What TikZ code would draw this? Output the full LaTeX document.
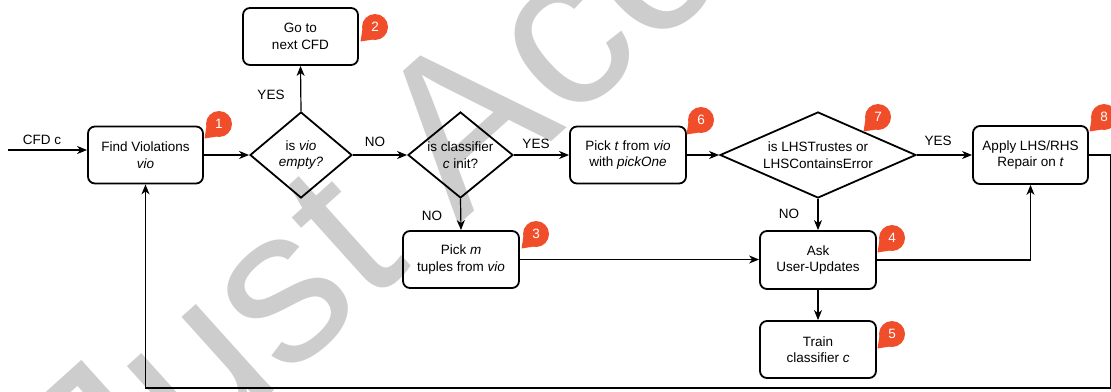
\documentclass[tikz,border=0pt]{standalone}
\usepackage{fontspec}
\setmainfont{Liberation Sans}
\usetikzlibrary{shapes.geometric,arrows.meta,calc}
\definecolor{badgecol}{RGB}{240,78,42}
\definecolor{wm}{RGB}{205,205,205}
\newcommand\mybadge[4]{%
  \node[badge] (#1) at (#2,#3) {#4};
  \fill[badgecol] ($(#1)+(-14.5,14.5)$) -- ($(#1)+(-12.5,2)$) -- ($(#1)+(-2,12.5)$) -- cycle;
}
\begin{document}
\begin{tikzpicture}[x=1pt,y=-1pt,
  every node/.style={font=\fontsize{13.5}{16.5}\selectfont},
  box/.style={draw, line width=1.8pt, rounded corners=7pt, minimum width=115pt, minimum height=57pt, inner sep=0pt, align=center},
  dia/.style={draw, diamond, line width=1.8pt, inner sep=0pt},
  arr/.style={line width=1.2pt, -{Stealth[length=10pt,width=8pt,inset=3pt]}},
  lbl/.style={inner sep=0pt},
  dtext/.style={inner sep=0pt, align=center},
  badge/.style={circle, fill=badgecol, text=white, minimum size=26pt, inner sep=0pt, font=\fontsize{13.5}{13.5}\selectfont}
]
\useasboundingbox (0,0) rectangle (1111,391);
\begin{scope}
  \clip (0,0) rectangle (1111,391);
  \node[text=wm, font=\fontsize{220}{220}\selectfont, rotate=42, anchor=base west, inner sep=0pt] (wmk) at (113,536) {Just Accepted};
\end{scope}

% boxes
\node[box] (find) at (145.5,155) {Find Violations\\\textit{vio}};
\node[box] (gonext) at (300.5,36.5) {Go to\\next CFD};
\node[box, minimum width=116pt] (pickt) at (628,155) {Pick \textit{t} from \textit{vio}\\with \textit{pickOne}};
\node[box, minimum height=58pt] (apply) at (1030.5,155) {Apply LHS/RHS\\Repair on \textit{t}};
\node[box, minimum width=116pt, minimum height=58pt] (ask) at (818,260) {Ask\\User-Updates};
\node[box, minimum width=116pt] (train) at (818,349.5) {Train\\classifier \textit{c}};
\node[box, minimum width=116pt] (pickm) at (461,259.5) {Pick \textit{m}\\tuples from \textit{vio}};

% diamonds
\node[dia, minimum width=102pt, minimum height=86pt] (d1) at (301,155) {};
\node[dtext] (t1) at (d1) {is \textit{vio}\\\textit{empty?}};
\node[dia, minimum width=105pt, minimum height=86pt] (d2) at (460.5,155) {};
\node[dtext] (t2) at (d2) {is classifier\\\textit{c} init?};
\node[dia, minimum width=196pt, minimum height=86pt] (d3) at (818,155) {};
\node[dtext] (t3) at (d3) {is LHSTrustes or\\LHSContainsError};

% labels
\node[lbl] (lcfd) at (42,140) {CFD c};
\node[lbl] (lyes1) at (271,95) {YES};
\node[lbl] (lno1) at (375,142) {NO};
\node[lbl] (lyes2) at (536,144) {YES};
\node[lbl] (lno2) at (432,216) {NO};
\node[lbl] (lyes3) at (938,141) {YES};
\node[lbl] (lno3) at (789,214) {NO};

% connectors
\coordinate (cfdin) at (8,150);
\draw[arr] (cfdin) -- (find.west |- cfdin);
\draw[arr] (find.east) -- (d1.west);
\draw[arr] (d1.north) -- (gonext.south);
\draw[arr] (d1.east) -- (d2.west);
\draw[arr] (d2.east) -- (pickt.west);
\draw[arr] (d2.south) -- (pickm.north);
\draw[arr] (pickt.east) -- (d3.west);
\draw[arr] (d3.east) -- (apply.west);
\draw[arr] (d3.south) -- (ask.north);
\draw[arr] (pickm.east) -- (ask.west |- pickm.east);
\draw[arr] (ask.south) -- (train.north);
\draw[arr] (ask.east) -| (apply.south);
\coordinate (rc) at (1110.3,388);
\draw[arr] (apply.east) -| (rc) -| (find.south);

% badges
\mybadge{b1}{219}{124}{1}
\mybadge{b2}{375}{27}{2}
\mybadge{b3}{536}{234}{3}
\mybadge{b4}{892}{238}{4}
\mybadge{b5}{892}{334}{5}
\mybadge{b6}{701}{120}{6}
\mybadge{b7}{878}{117}{7}
\mybadge{b8}{1104}{117}{8}
\end{tikzpicture}
\end{document}
